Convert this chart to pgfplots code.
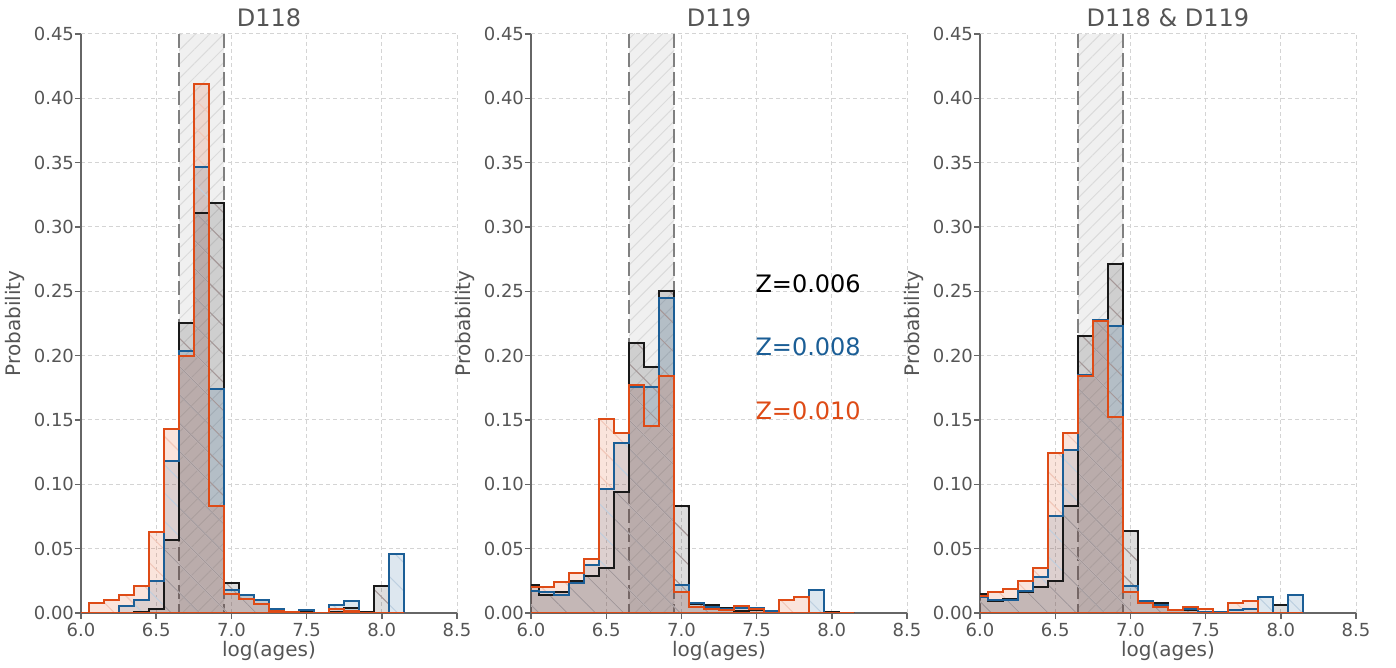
\documentclass[border=0pt]{standalone}
\usepackage{pgfplots}
\pgfplotsset{compat=1.18}
\usepackage{pgfplotstable}
\usepackage{fontspec}
\setmainfont{DejaVu Sans}
\usetikzlibrary{patterns.meta}
\definecolor{blk}{RGB}{25,25,25}
\definecolor{zblue}{RGB}{27,94,150}
\definecolor{zorange}{RGB}{222,75,22}
\definecolor{txtgray}{RGB}{85,85,85}
\definecolor{hblk}{RGB}{165,152,152}
\definecolor{hblue}{RGB}{190,208,224}
\definecolor{horange}{RGB}{242,200,186}

\pgfplotstableread{
x b u o
5.95 0 0 0
6.05 0 0 0.008
6.15 0 0 0.010
6.25 0 0.0055 0.014
6.35 0.001 0.0104 0.021
6.45 0.003 0.025 0.063
6.55 0.057 0.118 0.143
6.65 0.225 0.204 0.200
6.75 0.311 0.347 0.411
6.85 0.319 0.174 0.083
6.95 0.023 0.018 0.015
7.05 0.014 0.014 0.011
7.15 0.010 0.010 0.007
7.25 0.003 0.003 0.0015
7.35 0 0 0.001
7.45 0.001 0.002 0
7.55 0 0 0
7.65 0.001 0.006 0.003
7.75 0.004 0.009 0.0015
7.85 0.001 0 0
7.95 0.021 0 0
8.05 0 0.046 0
8.15 0 0 0
}\pA

\pgfplotstableread{
x b u o
5.95 0.022 0.017 0.020
6.05 0.014 0.016 0.020
6.15 0.016 0.014 0.024
6.25 0.025 0.023 0.031
6.35 0.029 0.037 0.042
6.45 0.035 0.096 0.151
6.55 0.094 0.132 0.140
6.65 0.210 0.176 0.177
6.75 0.191 0.176 0.145
6.85 0.250 0.245 0.184
6.95 0.083 0.022 0.016
7.05 0.007 0.008 0.005
7.15 0.006 0.005 0.003
7.25 0.0035 0.003 0.0026
7.35 0.0016 0.0035 0.0055
7.45 0.002 0.004 0.003
7.55 0 0.0013 0
7.65 0 0 0.010
7.75 0 0 0.0125
7.85 0 0.018 0
7.95 0.001 0 0
8.05 0 0 0
8.15 0 0 0
}\pB

\pgfplotstableread{
x b u o
5.95 0.015 0.0125 0.013
6.05 0.0095 0.010 0.016
6.15 0.011 0.010 0.019
6.25 0.016 0.017 0.025
6.35 0.020 0.028 0.035
6.45 0.025 0.075 0.124
6.55 0.083 0.127 0.140
6.65 0.215 0.185 0.184
6.75 0.228 0.228 0.227
6.85 0.271 0.223 0.152
6.95 0.064 0.021 0.016
7.05 0.009 0.009 0.008
7.15 0.008 0.006 0.0045
7.25 0.0026 0.002 0.002
7.35 0.002 0.003 0.0047
7.45 0.001 0.001 0.003
7.55 0 0.0005 0
7.65 0 0.002 0.008
7.75 0 0.003 0.009
7.85 0 0.0125 0
7.95 0.0065 0 0
8.05 0 0.014 0
8.15 0 0 0
}\pC

\pgfplotsset{
  panel/.style={
    scale only axis, width=188pt, height=289.5pt,
    anchor=south west,
    xmin=6, xmax=8.5, ymin=0, ymax=0.45,
    xtick={6,6.5,7,7.5,8,8.5},
    ytick={0,0.05,0.1,0.15,0.2,0.25,0.3,0.35,0.4,0.45},
    /pgf/number format/assume math mode=true,
    x tick label style={/pgf/number format/.cd, fixed, fixed zerofill, precision=1, /tikz/.cd, yshift=1.5pt},
    y tick label style={/pgf/number format/.cd, fixed, fixed zerofill, precision=2, /tikz/.cd, xshift=3pt},
    tick label style={font=\fontsize{9}{10}\selectfont, text=txtgray},
    axis x line*=bottom, axis y line*=left,
    axis line style={-, black!60, line width=0.7pt},
    tick style={black!60, line width=0.7pt},
    tick align=outside, major tick length=3pt,
    grid=major,
    major grid style={dash pattern=on 2pt off 1.5pt, black!17, line width=0.5pt},
    every axis title/.style={font=\fontsize{12}{14}\selectfont, text=txtgray, at={(axis description cs:0.5,1)}, anchor=south, yshift=3.5pt, inner sep=0pt},
    xlabel={log(ages)}, ylabel={Probability},
    every axis x label/.style={at={(axis description cs:0.5,-0.0656)}, anchor=center, font=\fontsize{10}{12}\selectfont, text=txtgray},
    every axis y label/.style={at={(axis description cs:-0.1755,0.5)}, rotate=90, anchor=center, font=\fontsize{10}{12}\selectfont, text=txtgray},
  },
  hfill/.style={const plot, draw=none, fill=#1, fill opacity=0.15},
  hhatch/.style={const plot, draw=none, pattern={Lines[angle=-45,distance=10pt,line width=0.55pt]}, pattern color=#1},
  hline/.style={const plot, line width=1pt, draw=#1, fill=none},
}

\newcommand{\band}{%
  \addplot[fill=black!6, draw=none, postaction={pattern={Lines[angle=45,distance=5pt,line width=0.5pt]}, pattern color=black!14}]
    coordinates {(6.653,0) (6.653,0.45) (6.954,0.45) (6.954,0)} -- cycle;
  \addplot[black!50, line width=1pt, dash pattern=on 7pt off 2.5pt] coordinates {(6.653,0.45) (6.653,0)};
  \addplot[black!50, line width=1pt, dash pattern=on 7pt off 2.5pt] coordinates {(6.954,0.45) (6.954,0)};
}
\newcommand{\hists}[1]{%
  \addplot[hfill=blk] table[x=x,y=b] {#1} \closedcycle;
  \addplot[hfill=zblue] table[x=x,y=u] {#1} \closedcycle;
  \addplot[hfill=zorange] table[x=x,y=o] {#1} \closedcycle;
  \addplot[hhatch=horange] table[x=x,y=o] {#1} \closedcycle;
  \addplot[hhatch=hblue] table[x=x,y=u] {#1} \closedcycle;
  \addplot[hhatch=hblk] table[x=x,y=b] {#1} \closedcycle;
  \addplot[hline=blk] table[x=x,y=b] {#1} \closedcycle;
  \addplot[hline=zblue] table[x=x,y=u] {#1} \closedcycle;
  \addplot[hline=zorange] table[x=x,y=o] {#1} \closedcycle;
}

\begin{document}
\begin{tikzpicture}
\path[use as bounding box] (0,0) rectangle (698pt,334pt);

\begin{axis}[panel, at={(40.5pt,27.5pt)}, title={D118}]
\band
\hists{\pA}
\end{axis}

\begin{axis}[panel, at={(265.5pt,27.5pt)}, title={D119}]
\band
\hists{\pB}
\node[anchor=west, text=black, font=\fontsize{12}{14}\selectfont, inner sep=0pt] at (axis cs:7.49,0.256) {Z=0.006};
\node[anchor=west, text=zblue, font=\fontsize{12}{14}\selectfont, inner sep=0pt] at (axis cs:7.49,0.2067) {Z=0.008};
\node[anchor=west, text=zorange, font=\fontsize{12}{14}\selectfont, inner sep=0pt] at (axis cs:7.49,0.1569) {Z=0.010};
\end{axis}

\begin{axis}[panel, at={(490pt,27.5pt)}, title={D118 \& D119}]
\band
\hists{\pC}
\end{axis}
\end{tikzpicture}
\end{document}
